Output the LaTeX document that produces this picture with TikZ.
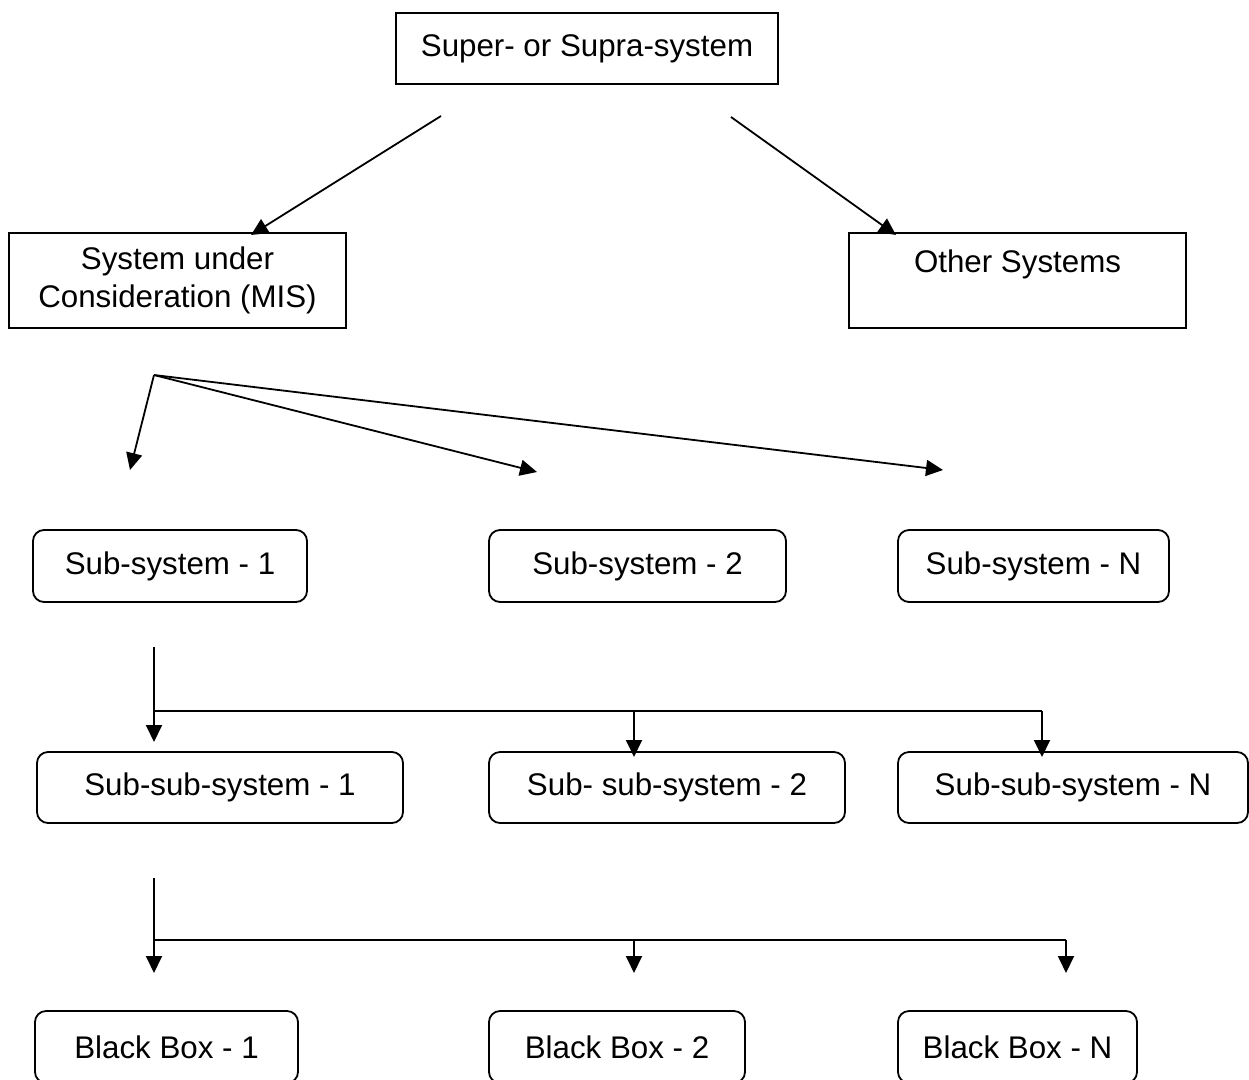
\documentclass[tikz,border=0pt]{standalone}
\usepackage{fontspec}
\setmainfont{Liberation Sans}
\usetikzlibrary{arrows.meta}
\begin{document}
\begin{tikzpicture}[x=1pt,y=-1pt,
  every node/.style={font=\fontsize{31.3}{38}\selectfont, inner sep=0pt, align=center},
  sqbox/.style={draw, line width=1.8pt},
  rbox/.style={draw, line width=1.8pt, rounded corners=11pt, minimum height=72pt},
  link/.style={line width=1.8pt},
  arr/.style={line width=1.8pt, -{Triangle[length=17pt,width=16pt]}}]
\useasboundingbox (0,0) rectangle (1249,1079);
\clip (0,0) rectangle (1249,1079);

% top level
\node[sqbox, minimum width=382pt, minimum height=71pt] (super) at (587,48.5)
  {\raisebox{5pt}{Super- or Supra-system}};
\node[sqbox, minimum width=337pt, minimum height=95pt] (sys) at (177.5,280.5)
  {System under\\Consideration (MIS)};
\node[sqbox, minimum width=337pt, minimum height=95pt] (other) at (1017.5,280.5)
  {Other Systems\\\mbox{}};

% sub-systems
\node[rbox, minimum width=274pt] (s1) at (170,566) {Sub-system - 1};
\node[rbox, minimum width=297pt] (s2) at (637.5,566) {Sub-system - 2};
\node[rbox, minimum width=271pt] (sN) at (1033.5,566) {Sub-system - N};

% sub-sub-systems
\node[rbox, minimum width=366pt, minimum height=71pt] (ss1) at (220,787.5) {Sub-sub-system - 1};
\node[rbox, minimum width=356pt, minimum height=71pt] (ss2) at (667,787.5) {Sub- sub-system - 2};
\node[rbox, minimum width=350pt, minimum height=71pt] (ssN) at (1073,787.5) {Sub-sub-system - N};

% black boxes
\node[rbox, minimum width=263pt] (b1) at (166.5,1047) {Black Box - 1};
\node[rbox, minimum width=256pt] (b2) at (617,1047) {Black Box - 2};
\node[rbox, minimum width=239pt] (bN) at (1017.5,1047) {Black Box - N};

% connector end points
\coordinate (ta) at (441,116);
\coordinate (tb) at (731,117);
\coordinate (taE) at (251,235);
\coordinate (tbE) at (896,235);

\coordinate (f0) at (154,375);
\coordinate (f1) at (130,470);
\coordinate (f2) at (537,472);
\coordinate (f3) at (943,470);

\coordinate (g0) at (154,647);
\coordinate (g1) at (154,742);
\coordinate (gj) at (154,711);
\coordinate (gm) at (634,711);
\coordinate (gr) at (1042,711);
\coordinate (g2) at (634,757);
\coordinate (g3) at (1042,757);

\coordinate (h0) at (154,878);
\coordinate (h1) at (154,973);
\coordinate (hj) at (154,940);
\coordinate (hm) at (634,940);
\coordinate (hr) at (1066,940);
\coordinate (h2) at (634,973);
\coordinate (h3) at (1066,973);

% super-system to its parts
\draw[arr] (ta) -- (taE);
\draw[arr] (tb) -- (tbE);

% fan out to sub-systems
\draw[arr] (f0) -- (f1);
\draw[arr] (f0) -- (f2);
\draw[arr] (f0) -- (f3);

% branch to sub-sub-systems
\draw[arr] (g0) -- (g1);
\draw[link] (gj) -- (gr);
\draw[arr] (gm) -- (g2);
\draw[arr] (gr) -- (g3);

% branch to black boxes
\draw[arr] (h0) -- (h1);
\draw[link] (hj) -- (hr);
\draw[arr] (hm) -- (h2);
\draw[arr] (hr) -- (h3);
\end{tikzpicture}
\end{document}
